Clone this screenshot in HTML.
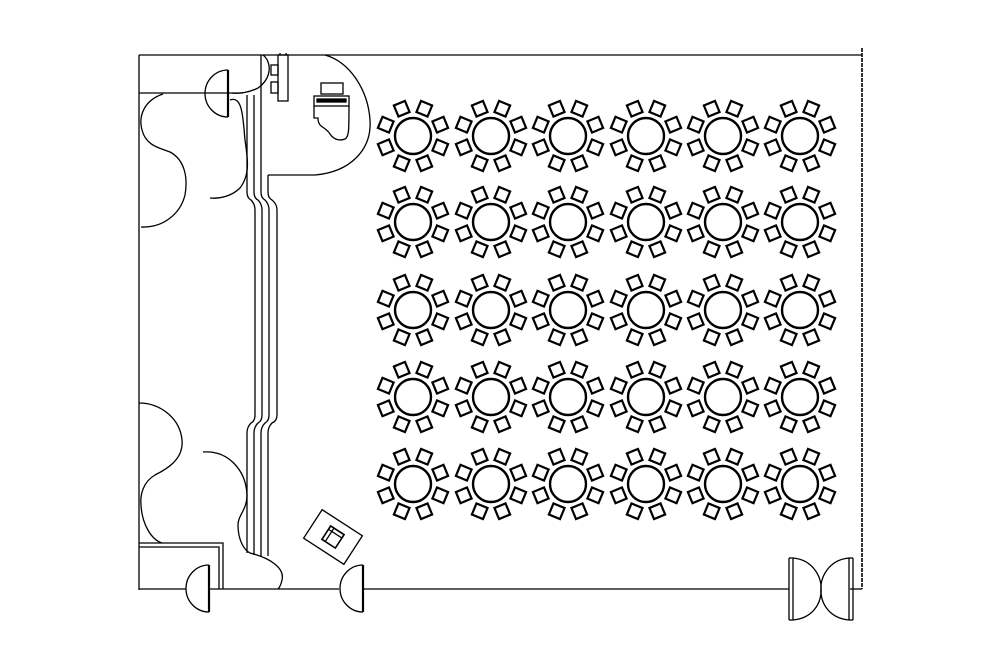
<!DOCTYPE html>
<html><head><style>html,body{margin:0;padding:0;background:#fff}svg{display:block}</style></head><body>
<svg width="1000" height="660" viewBox="0 0 1000 660" xmlns="http://www.w3.org/2000/svg">
<defs>
<g id="chair"><rect x="-6" y="-35.5" width="12" height="12" fill="#fff" stroke="#000" stroke-width="2.2"/></g>
<g id="t">
<circle r="18" fill="#fff" stroke="#000" stroke-width="2.4"/>
<use href="#chair" transform="rotate(22.5)"/><use href="#chair" transform="rotate(67.5)"/>
<use href="#chair" transform="rotate(112.5)"/><use href="#chair" transform="rotate(157.5)"/>
<use href="#chair" transform="rotate(202.5)"/><use href="#chair" transform="rotate(247.5)"/>
<use href="#chair" transform="rotate(292.5)"/><use href="#chair" transform="rotate(337.5)"/>
</g>
</defs>
<g fill="none" stroke="#000" stroke-width="1.3">
<line x1="139" y1="55" x2="862" y2="55"/>
<line x1="139" y1="55" x2="139" y2="590"/>
<line x1="862" y1="48" x2="862" y2="589" stroke-width="1.6" stroke-dasharray="4 1"/>
<line x1="850" y1="589" x2="862" y2="589"/>
<line x1="139" y1="589" x2="186" y2="589"/>
<line x1="209" y1="589" x2="339" y2="589"/>
<line x1="363" y1="589" x2="789" y2="589"/>
<line x1="139" y1="93" x2="243" y2="93"/>
<polyline points="139,543 223,543 223,589"/>
<polyline points="139,547 219,547 219,589"/>
<path d="M247 95 V192 Q247 198 251 200 Q255 204 255 210 V415 Q255 421 251 423 Q247 427 247 433 V553"/>
<path d="M254 95 V192 Q254 198 258 200 Q262 204 262 210 V415 Q262 421 258 423 Q254 427 254 433 V555"/>
<path d="M261 55 V192 Q261 198 265 200 Q269 204 269 210 V415 Q269 421 265 423 Q261 427 261 433 V556"/>
<path d="M268 175 V192 Q268 198 272 200 Q277 204 277 210 V415 Q277 421 272 423 Q268 427 268 433 V556"/>
<path d="M268 175 H315 C350 172 372 150 370 120 C368 90 350 62 325 55"/>
<path d="M263 55 C272 62 272 78 258 88 C250 92 240 94 232 93"/>
<path d="M230 100 C243 95 243 120 245 140 C248 160 250 175 240 188 C232 196 220 199 210 198"/>
<path d="M163 94 C145 100 138 115 142 130 C146 146 160 148 170 152 C185 160 188 178 185 195 C180 215 162 228 141 227"/>
<path d="M139 403 C160 403 180 418 182 440 C184 460 165 470 155 475 C143 482 140 495 141 505 C142 525 152 540 162 543"/>
<path d="M203 452 C228 450 246 470 247 495 C247 510 238 515 238 525 C238 540 244 550 250 553"/>
<path d="M250 553 C270 558 285 568 282 580 C281 585 279 588 278 589"/>
<path d="M228 70 A23 23.5 0 0 0 228 117" />
<line x1="228" y1="70" x2="228" y2="117" stroke-width="2.2"/>
<path d="M209 565 A23 23.5 0 0 0 209 612"/>
<line x1="209" y1="565" x2="209" y2="612" stroke-width="2.2"/>
<path d="M363 565 A23 23.5 0 0 0 363 612"/>
<line x1="363" y1="565" x2="363" y2="612" stroke-width="2.2"/>
<line x1="789" y1="558" x2="789" y2="620"/><line x1="793" y1="558" x2="793" y2="620"/>
<line x1="789" y1="558" x2="793" y2="558"/><line x1="789" y1="620" x2="793" y2="620"/>
<line x1="849" y1="558" x2="849" y2="620"/><line x1="853" y1="558" x2="853" y2="620"/>
<line x1="849" y1="558" x2="853" y2="558"/><line x1="849" y1="620" x2="853" y2="620"/>
<path d="M793 558 C815 560 822 580 821 589 C822 600 815 618 793 620"/>
<path d="M849 558 C827 560 820 580 821 589 C820 600 827 618 849 620"/>
<rect x="278" y="55" width="10" height="46"/>
<line x1="280" y1="53" x2="280" y2="55"/><line x1="286" y1="53" x2="286" y2="55"/>
<rect x="271" y="65" width="7" height="10"/>
<rect x="271" y="82" width="7" height="11"/>
<rect x="321" y="83" width="22" height="11"/>
<rect x="314" y="96" width="35" height="10"/>
<rect x="317" y="99" width="29" height="3" fill="#000"/>
<path d="M314 106 V118 H318 C318 128 325 126 330 134 C334 140 340 141 345 139 C349 137 349 130 349 106"/>
<g transform="translate(333,537) rotate(33)">
<rect x="-24" y="-17" width="48" height="34"/>
<rect x="-8" y="-8" width="16" height="16" stroke-width="1.6"/>
<rect x="-8" y="-8" width="16" height="4"/>
<rect x="-8" y="-8" width="4" height="16"/>
</g>
</g>
<g>
<use href="#t" x="413" y="136"/><use href="#t" x="491" y="136"/><use href="#t" x="568" y="136"/><use href="#t" x="646" y="136"/><use href="#t" x="723" y="136"/><use href="#t" x="800" y="136"/>
<use href="#t" x="413" y="222"/><use href="#t" x="491" y="222"/><use href="#t" x="568" y="222"/><use href="#t" x="646" y="222"/><use href="#t" x="723" y="222"/><use href="#t" x="800" y="222"/>
<use href="#t" x="413" y="310"/><use href="#t" x="491" y="310"/><use href="#t" x="568" y="310"/><use href="#t" x="646" y="310"/><use href="#t" x="723" y="310"/><use href="#t" x="800" y="310"/>
<use href="#t" x="413" y="397"/><use href="#t" x="491" y="397"/><use href="#t" x="568" y="397"/><use href="#t" x="646" y="397"/><use href="#t" x="723" y="397"/><use href="#t" x="800" y="397"/>
<use href="#t" x="413" y="484"/><use href="#t" x="491" y="484"/><use href="#t" x="568" y="484"/><use href="#t" x="646" y="484"/><use href="#t" x="723" y="484"/><use href="#t" x="800" y="484"/>
</g>
</svg>
</body></html>
